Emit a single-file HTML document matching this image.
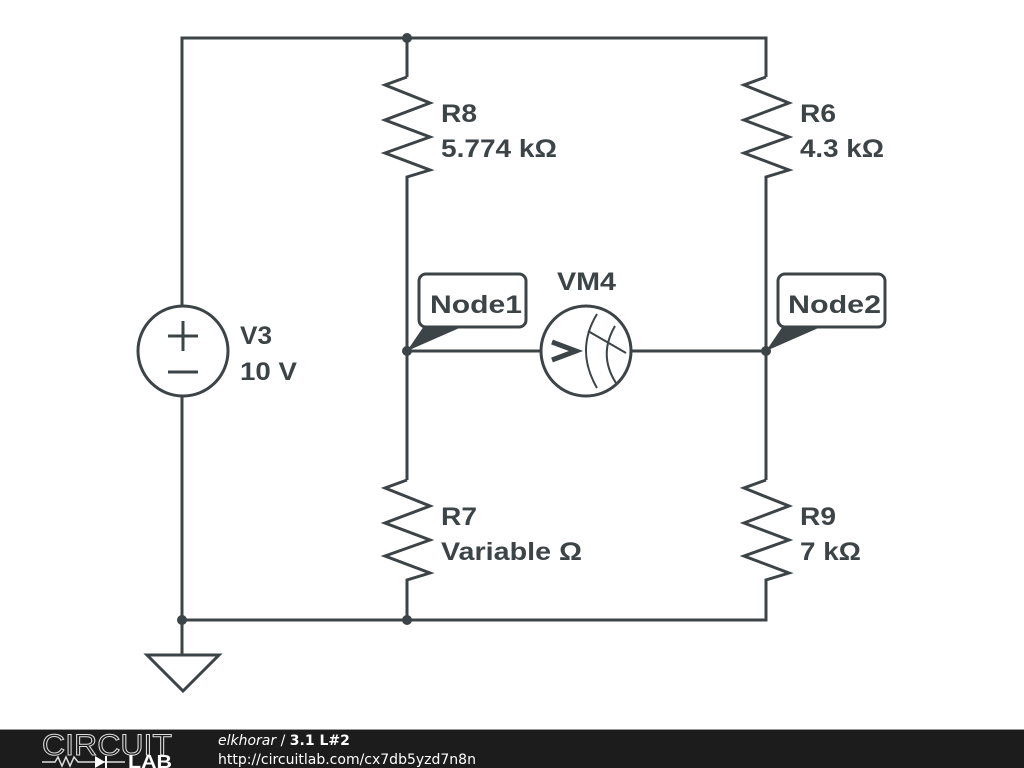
<!DOCTYPE html>
<html><head><meta charset="utf-8"><style>
html,body{margin:0;padding:0;background:#fff;width:1024px;height:768px;overflow:hidden}
svg{display:block}
.t{font-family:"Liberation Sans",sans-serif;font-weight:bold;font-size:25px;fill:#3d4447}
</style></head><body>
<svg width="1024" height="768" viewBox="0 0 1024 768">
<g stroke="#3d4447" stroke-width="3" fill="none" stroke-linejoin="miter">
<polyline points="182,305 182,38 766,38 766,77"/>
<line x1="407" y1="38" x2="407" y2="77"/>
<polyline points="407,77 385,85 430,103 385,120 430,137 385,153 430,170 407,177 407,480"/>
<polyline points="766,77 744,85 789,103 744,120 789,137 744,153 789,170 766,177 766,480"/>
<polyline points="407,480 385,488 430,506 385,523 430,540 385,556 430,573 407,580 407,620"/>
<polyline points="766,480 744,488 789,506 744,523 789,540 744,556 789,573 766,580 766,620 182,620 182,397"/>
<line x1="182" y1="620" x2="182" y2="655"/>
<polygon points="147,655 219,655 183,691"/>
<circle cx="183" cy="351" r="45"/>
<line x1="168" y1="336" x2="198" y2="336"/><line x1="183" y1="321" x2="183" y2="351"/>
<line x1="168" y1="372" x2="198" y2="372"/>
<line x1="407" y1="351" x2="541" y2="351"/>
<line x1="631" y1="351" x2="766" y2="351"/>
<circle cx="586" cy="351" r="45"/>
<polyline points="552,342 576,351 552,360" stroke-width="5"/>
<path d="M597,314 Q575,350 597,388" stroke-width="2"/>
<path d="M615,326 Q598,355 616,383" stroke-width="2"/>
<line x1="588" y1="331" x2="626" y2="353" stroke-width="2"/>
<rect x="419" y="274" width="107" height="53" rx="7"/>
<rect x="778" y="274" width="107" height="53" rx="7"/>
</g>
<g fill="#3d4447">
<circle cx="407" cy="38" r="5"/><circle cx="182" cy="620" r="5"/><circle cx="407" cy="620" r="5"/>
<circle cx="407" cy="351" r="5"/><circle cx="766" cy="351" r="5"/>
<polygon points="407,351 424,326 464,326"/>
<polygon points="766,351 783,326 823,326"/>
</g>
<text class="t" x="441" y="122" textLength="36" lengthAdjust="spacingAndGlyphs">R8</text>
<text class="t" x="441" y="157" textLength="116" lengthAdjust="spacingAndGlyphs">5.774 kΩ</text>
<text class="t" x="800" y="122" textLength="36" lengthAdjust="spacingAndGlyphs">R6</text>
<text class="t" x="800" y="157" textLength="84" lengthAdjust="spacingAndGlyphs">4.3 kΩ</text>
<text class="t" x="441" y="525" textLength="36" lengthAdjust="spacingAndGlyphs">R7</text>
<text class="t" x="441" y="560" textLength="141" lengthAdjust="spacingAndGlyphs">Variable Ω</text>
<text class="t" x="800" y="525" textLength="36" lengthAdjust="spacingAndGlyphs">R9</text>
<text class="t" x="800" y="560" textLength="61" lengthAdjust="spacingAndGlyphs">7 kΩ</text>
<text class="t" x="240" y="344" textLength="32" lengthAdjust="spacingAndGlyphs">V3</text>
<text class="t" x="240" y="380" textLength="57" lengthAdjust="spacingAndGlyphs">10 V</text>
<text class="t" x="557" y="290" textLength="59" lengthAdjust="spacingAndGlyphs">VM4</text>
<text class="t" x="430" y="313" textLength="92" lengthAdjust="spacingAndGlyphs">Node1</text>
<text class="t" x="788" y="313" textLength="93" lengthAdjust="spacingAndGlyphs">Node2</text>
<rect x="0" y="729" width="1024" height="1" fill="#999"/>
<rect x="0" y="730" width="1024" height="38" fill="#1c1c1c"/>
<text x="42" y="755" font-family="Liberation Sans,sans-serif" font-size="30" fill="none" stroke="#ddd" stroke-width="1" textLength="130" lengthAdjust="spacingAndGlyphs">CIRCUIT</text>
<text x="128" y="768" font-family="Liberation Sans,sans-serif" font-weight="bold" font-size="18" fill="#fff" textLength="44" lengthAdjust="spacingAndGlyphs">LAB</text>
<polyline points="42,762 55,762 58,757 62,766 66,757 70,766 74,757 78,762 125,762" stroke="#ddd" stroke-width="1.5" fill="none"/>
<polygon points="95,756 95,768 105,762" fill="#fff"/>
<line x1="106" y1="756" x2="106" y2="768" stroke="#fff" stroke-width="2"/>
<text x="218" y="745" font-family="DejaVu Sans,sans-serif" font-size="14" fill="#fff"><tspan font-style="italic">elkhorar</tspan> / <tspan font-weight="bold">3.1 L#2</tspan></text>
<text x="218" y="764" font-family="DejaVu Sans,sans-serif" font-size="14" fill="#fff">http://circuitlab.com/cx7db5yzd7n8n</text>
</svg>
</body></html>
